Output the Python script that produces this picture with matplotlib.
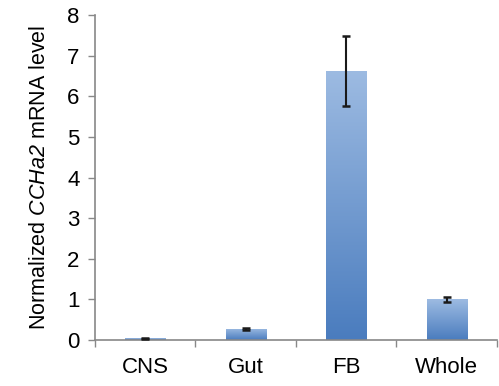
import numpy as np
import matplotlib.pyplot as plt
from matplotlib.colors import LinearSegmentedColormap

plt.rcParams['font.family'] = ['Liberation Sans', 'DejaVu Sans']
# only the gene name is mathtext, so make digits italic too
plt.rcParams['mathtext.fontset'] = 'custom'
plt.rcParams['mathtext.rm'] = 'Liberation Sans:italic'
plt.rcParams['mathtext.it'] = 'Liberation Sans:italic'

tissues = ['CNS', 'Gut', 'FB', 'Whole']
levels = [0.04, 0.28, 6.63, 1.0]
errors = [0.02, 0.02, 0.86, 0.07]
yticks = [0, 1, 2, 3, 4, 5, 6, 7, 8]

fig = plt.figure(figsize=(4.99, 3.86), dpi=100)
ax = fig.add_axes([0.19, 0.119, 0.806, 0.842])

x = np.arange(len(tissues))
width = 0.4
bars = ax.bar(x, levels, width, color='none', edgecolor='none', zorder=2)

# vertical gradient in each bar, lighter at top
cmap = LinearSegmentedColormap.from_list('blu', ['#4a7cbe', '#9dbbe2'])
grad = np.linspace(0, 1, 256).reshape(-1, 1)
for b in bars:
    bx, by = b.get_x(), b.get_y()
    bw, bh = b.get_width(), b.get_height()
    im = ax.imshow(grad, extent=[bx, bx + bw, by, by + bh], origin='lower',
                   cmap=cmap, aspect='auto', zorder=2)
    im.set_clip_path(b)

ax.errorbar(x, levels, yerr=errors, fmt='none', ecolor='#1a1a1a',
            elinewidth=1.5, capsize=3.2, capthick=1.8, zorder=3)

ax.set_xlim(-0.5, 3.5)
ax.set_ylim(0, 8)
ax.set_yticks(yticks)
ax.set_xticks(x)
ax.set_xticklabels(tissues, fontsize=16)
ax.set_xticks([-0.5, 0.5, 1.5, 2.5, 3.5], minor=True)
ax.tick_params(axis='x', which='major', length=0, pad=12)
ax.tick_params(axis='x', which='minor', length=5, color='#888888', width=1)
ax.tick_params(axis='y', length=5, color='#888888', width=1, labelsize=16, pad=6)

for s in ['top', 'right']:
    ax.spines[s].set_visible(False)
for s in ['left', 'bottom']:
    ax.spines[s].set_color('#888888')
    ax.spines[s].set_linewidth(1.2)

ax.set_ylabel('Normalized $CCHa2$ mRNA level', fontsize=15.5, labelpad=12)

fig.savefig('out.png', dpi=100)
